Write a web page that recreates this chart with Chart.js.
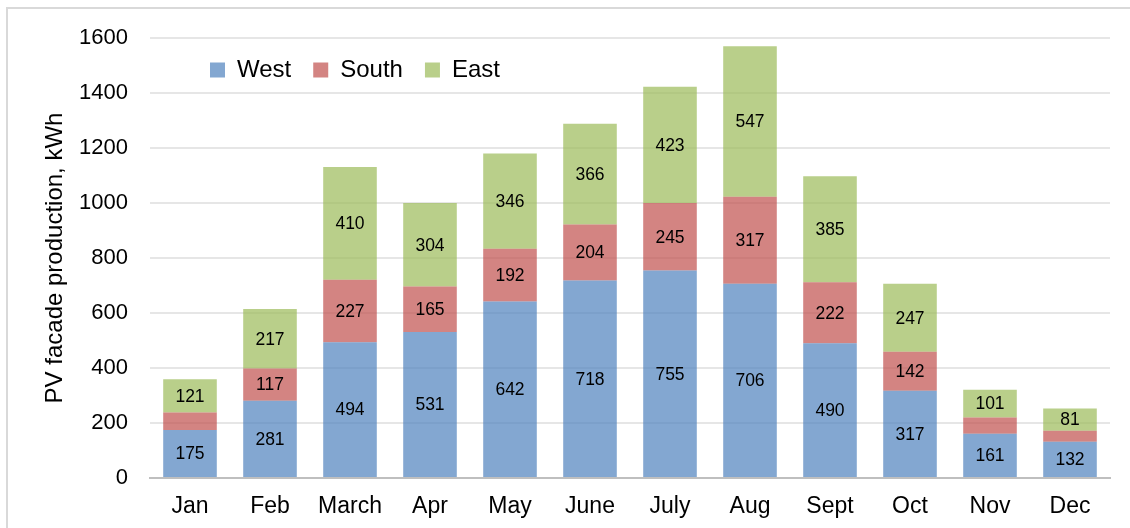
<!DOCTYPE html>
<html lang="en">
<head>
    <meta charset="UTF-8">
    <title>PV facade production</title>
    <style>
        html, body {
            margin: 0;
            padding: 0;
            background: #ffffff;
        }
        #wrap {
            position: relative;
            width: 1130px;
            height: 528px;
        }
    </style>
    <script src="https://cdn.jsdelivr.net/npm/chart.js"></script>
</head>
<body>
    <div id="wrap">
        <canvas id="pvChart" width="1130" height="528"></canvas>
    </div>

    <script>
        // chart data
        const months = ['Jan', 'Feb', 'March', 'Apr', 'May', 'June', 'July', 'Aug', 'Sept', 'Oct', 'Nov', 'Dec'];
        const westValues = [175, 281, 494, 531, 642, 718, 755, 706, 490, 317, 161, 132];
        const southValues = [63, 117, 227, 165, 192, 204, 245, 317, 222, 142, 59, 40];
        const eastValues = [121, 217, 410, 304, 346, 366, 423, 547, 385, 247, 101, 81];
        const yTicks = [0, 200, 400, 600, 800, 1000, 1200, 1400, 1600];

        const FONT = "'Liberation Sans', Arial, sans-serif";

        // segment labels, written in the middle of each bar piece
        const segmentLabels = {
            id: 'segmentLabels',
            afterDatasetsDraw(chart) {
                const ctx = chart.ctx;
                ctx.save();
                ctx.font = '17.5px ' + FONT;
                ctx.fillStyle = '#000000';
                ctx.textAlign = 'center';
                ctx.textBaseline = 'middle';
                chart.data.datasets.forEach((ds, i) => {
                    const meta = chart.getDatasetMeta(i);
                    meta.data.forEach((bar, j) => {
                        const v = ds.data[j];
                        if (v < 75) return; // too thin to carry a label
                        const p = bar.getProps(['x', 'y', 'base'], true);
                        ctx.fillText(String(v), p.x, (p.y + p.base) / 2 + 1);
                    });
                });
                ctx.restore();
            }
        };

        // legend sits inside the plot, so it takes no room at the top;
        // plus the light frame round the whole chart
        const frameAndLegend = {
            id: 'frameAndLegend',
            beforeLayout(chart) {
                const lg = chart.legend;
                if (lg && !lg._flatFit) {
                    const fit = lg.fit;
                    lg.fit = function () {
                        fit.call(this);
                        this._realHeight = this.height;
                        this.height = 0;
                    };
                    lg._flatFit = true;
                }
            },
            afterLayout(chart) {
                const lg = chart.legend;
                if (lg) {
                    const dx = 188;
                    const top = chart.chartArea.top - 2;
                    lg.left += dx;
                    lg.right += dx;
                    lg.top = top;
                    lg.bottom = top + (lg._realHeight || 0);
                    lg.height = lg._realHeight || 0;
                }
            },
            beforeDraw(chart) {
                const ctx = chart.ctx;
                ctx.save();
                ctx.fillStyle = '#ffffff';
                ctx.fillRect(0, 0, chart.width, chart.height);
                ctx.strokeStyle = '#d9d9d9';
                ctx.lineWidth = 2;
                ctx.strokeRect(7, 8, chart.width + 10, chart.height + 10);
                ctx.restore();
            }
        };

        new Chart(document.getElementById('pvChart'), {
            type: 'bar',
            data: {
                labels: months,
                datasets: [
                    {
                        label: 'West',
                        data: westValues,
                        backgroundColor: 'rgba(79, 129, 189, 0.7)',
                        borderWidth: 0
                    },
                    {
                        label: 'South',
                        data: southValues,
                        backgroundColor: 'rgba(192, 80, 77, 0.7)',
                        borderWidth: 0
                    },
                    {
                        label: 'East',
                        data: eastValues,
                        backgroundColor: 'rgba(155, 187, 89, 0.7)',
                        borderWidth: 0
                    }
                ]
            },
            options: {
                responsive: false,
                animation: false,
                devicePixelRatio: 1,
                datasets: {
                    bar: {
                        categoryPercentage: 1.0,
                        barPercentage: 0.67
                    }
                },
                layout: {
                    padding: { top: 38, right: 20, bottom: 0, left: 0 }
                },
                scales: {
                    x: {
                        stacked: true,
                        grid: { display: false, drawTicks: false },
                        border: { display: true, color: '#bfbfbf', width: 2 },
                        ticks: {
                            color: '#000000',
                            font: { family: FONT, size: 23 },
                            padding: 15,
                            maxRotation: 0
                        },
                        afterFit(scale) {
                            scale.height = 50;
                        }
                    },
                    y: {
                        stacked: true,
                        min: 0,
                        max: 1600,
                        afterBuildTicks(scale) {
                            scale.ticks = yTicks.map(v => ({ value: v }));
                        },
                        grid: {
                            drawTicks: false,
                            lineWidth: 2,
                            color: c => (c.tick && c.tick.value === 0) ? '#bfbfbf' : '#e6e6e6'
                        },
                        border: { display: false },
                        ticks: {
                            color: '#000000',
                            font: { family: FONT, size: 22 },
                            padding: 22,
                            callback: v => String(v)
                        },
                        title: {
                            display: true,
                            text: 'PV facade production, kWh',
                            color: '#000000',
                            font: { family: FONT, size: 24 },
                            padding: { top: 41, bottom: 0 }
                        },
                        afterFit(scale) {
                            scale.width = 150;
                        }
                    }
                },
                plugins: {
                    legend: {
                        position: 'top',
                        align: 'start',
                        labels: {
                            boxWidth: 15,
                            boxHeight: 15,
                            padding: 22,
                            color: '#000000',
                            font: { family: FONT, size: 24 }
                        }
                    },
                    tooltip: { enabled: false }
                }
            },
            plugins: [segmentLabels, frameAndLegend]
        });
    </script>
</body>
</html>
